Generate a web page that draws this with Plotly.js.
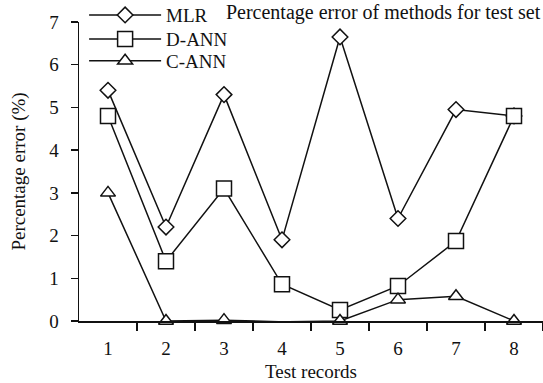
<!DOCTYPE html>
<html><head><meta charset="utf-8">
<script src="https://cdn.plot.ly/plotly-3.0.1.min.js"></script>
<style>html,body{margin:0;padding:0;background:#fff}</style>
</head><body>
<div id="chart" style="width:543px;height:383px"></div>
<script>
const records = [1, 2, 3, 4, 5, 6, 7, 8];
const mlr  = [5.4, 2.2, 5.3, 1.9, 6.65, 2.4, 4.95, 4.8];
const dann = [4.8, 1.4, 3.1, 0.86, 0.26, 0.82, 1.87, 4.8];
const cann = [3.0, 0.0, 0.02, -0.02, 0.0, 0.5, 0.58, 0.0];
const seriesNames = ['MLR', 'D-ANN', 'C-ANN'];
const xTickVals = [1, 2, 3, 4, 5, 6, 7, 8];
const xTickText = ['1', '2', '3', '4', '5', '6', '7', '8'];
const xMinorTicks = [1.5, 2.5, 3.5, 4.5, 5.5, 6.5, 7.5, 8.5];

const FONT = "'Liberation Serif', 'Times New Roman', serif";
const FS = 19;
function tr(y, name, symbol, size, legend) {
  return {
    x: records, y: y, name: name, type: 'scatter', mode: 'lines+markers', legend: legend,
    line: {color: '#111', width: 1.5},
    marker: {symbol: symbol, size: size, color: '#fff', line: {color: '#111', width: 1.5}},
    cliponaxis: false
  };
}
const data = [
  tr(mlr, seriesNames[0], 'diamond', 12, 'legend'),
  tr(dann, seriesNames[1], 'square', 15, 'legend2'),
  tr(cann, seriesNames[2], 'triangle-up', 13, 'legend3'),
  {x: xMinorTicks, y: xMinorTicks.map(() => null), xaxis: 'x2', yaxis: 'y', showlegend: false, hoverinfo: 'skip', type: 'scatter'}
];

function leg(y) {
  return {x: 0.011, y: y, xanchor: 'left', yanchor: 'middle', bgcolor: 'rgba(0,0,0,0)', font: {family: FONT, size: FS}, itemwidth: 72};
}

const layout = {
  width: 543, height: 383,
  margin: {l: 79, r: 0, t: 22, b: 62, autoexpand: false},
  paper_bgcolor: '#fff', plot_bgcolor: '#fff',
  font: {family: FONT, color: '#111', size: FS},
  title: {text: 'Percentage error of methods for test set', x: 0.995, xanchor: 'right', y: 0.988, yanchor: 'top', font: {family: FONT, size: 20, color: '#111'}},
  xaxis: {
    range: [0.5, 8.5], tickvals: xTickVals, ticktext: xTickText, ticks: '',
    showgrid: false, zeroline: false, showline: false, ticklabelstandoff: 14,
    title: {text: 'Test records', font: {family: FONT, size: FS}, standoff: 6},
    tickfont: {family: FONT, size: FS}
  },
  xaxis2: {
    overlaying: 'x', range: [0.5, 8.5], tickvals: xMinorTicks, showticklabels: false,
    ticks: 'outside', ticklen: 8, tickwidth: 1.5, tickcolor: '#111',
    showgrid: false, zeroline: false, showline: true, linecolor: '#111', linewidth: 1.5, side: 'bottom', anchor: 'y'
  },
  yaxis: {
    range: [0, 7], dtick: 1, ticks: 'outside', ticklen: 7, tickwidth: 1.5, tickcolor: '#111',
    showgrid: false, zeroline: false, showline: true, linecolor: '#111', linewidth: 1.5, ticklabelstandoff: 8,
    title: {text: 'Percentage error (%)', font: {family: FONT, size: FS}, standoff: 18},
    tickfont: {family: FONT, size: FS}
  },
  legend: leg(1.023),
  legend2: leg(0.943),
  legend3: leg(0.870),
  showlegend: true
};
Plotly.newPlot('chart', data, layout, {displayModeBar: false, staticPlot: true});
</script>
</body></html>
